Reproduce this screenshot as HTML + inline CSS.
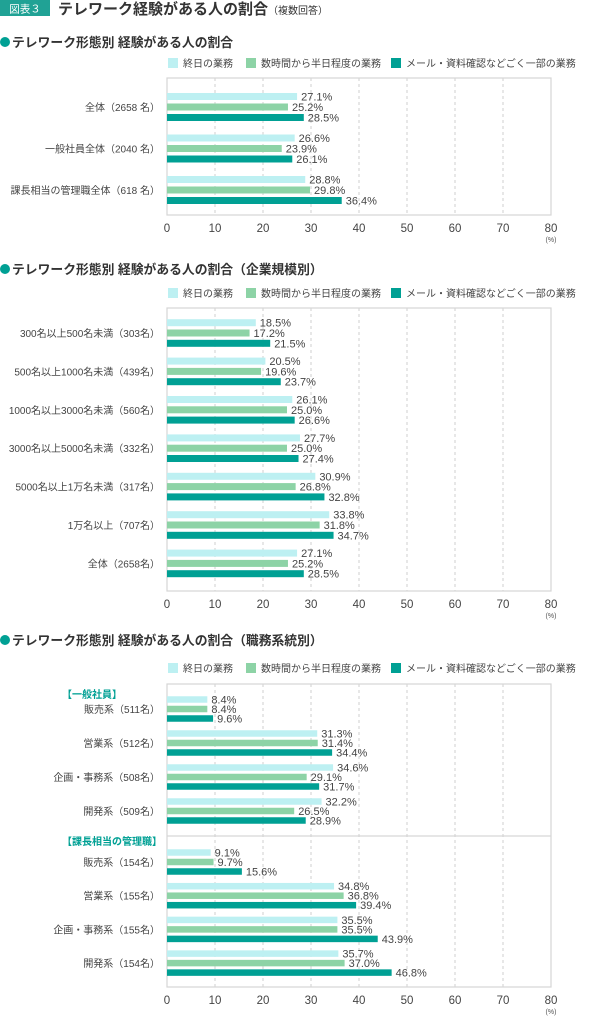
<!DOCTYPE html>
<html><head><meta charset="utf-8"><style>
body{margin:0;background:#fff;}
svg{display:block;font-family:"Liberation Sans","Noto Sans CJK JP",sans-serif;}
</style></head><body>
<svg id="s" width="600" height="1018" viewBox="0 0 600 1018">
<rect x="0" y="0" width="50" height="16" fill="#20a295"/>
<text x="25" y="12.5" fill="#fff" font-size="10.5" text-anchor="middle">図表３</text>
<text x="58" y="14" fill="#333" font-size="15" font-weight="bold">テレワーク経験がある人の割合<tspan font-size="10" font-weight="normal">（複数回答）</tspan></text>
</svg>
<script>
const seriesNames=["終日の業務","数時間から半日程度の業務","メール・資料確認などごく一部の業務"];
const colors=["#bdf0f2","#8dd3a6","#00a094"];
const ticks=[0,10,20,30,40,50,60,70,80];

const c1Cats=["全体（2658 名）","一般社員全体（2040 名）","課長相当の管理職全体（618 名）"];
const c1A=[27.1,26.6,28.8];
const c1B=[25.2,23.9,29.8];
const c1C=[28.5,26.1,36.4];

const c2Cats=["300名以上500名未満（303名）","500名以上1000名未満（439名）","1000名以上3000名未満（560名）","3000名以上5000名未満（332名）","5000名以上1万名未満（317名）","1万名以上（707名）","全体（2658名）"];
const c2A=[18.5,20.5,26.1,27.7,30.9,33.8,27.1];
const c2B=[17.2,19.6,25.0,25.0,26.8,31.8,25.2];
const c2C=[21.5,23.7,26.6,27.4,32.8,34.7,28.5];

const c3Cats=["販売系（511名）","営業系（512名）","企画・事務系（508名）","開発系（509名）","販売系（154名）","営業系（155名）","企画・事務系（155名）","開発系（154名）"];
const c3A=[8.4,31.3,34.6,32.2,9.1,34.8,35.5,35.7];
const c3B=[8.4,31.4,29.1,26.5,9.7,36.8,35.5,37.0];
const c3C=[9.6,34.4,31.7,28.9,15.6,39.4,43.9,46.8];

const S=document.getElementById('s');
const NS="http://www.w3.org/2000/svg";
function mk(tag,at,txt){const e=document.createElementNS(NS,tag);for(const k in at)e.setAttribute(k,at[k]);if(txt!==undefined)e.textContent=txt;S.appendChild(e);return e;}
const X0=167,X1=551;
const xs=v=>X0+(X1-X0)*v/80;

function chart(o){
  const t=mk('circle',{cx:5,cy:o.titleY-5,r:5,fill:"#00a094"});
  
  const tt=mk('text',{x:12,y:o.titleY,"font-size":12.8,"font-weight":"bold",fill:"#333"},o.title);
  
  const lx=[168,246,391];
  seriesNames.forEach((n,i)=>{
    const r=mk('rect',{x:lx[i],y:o.legY-10,width:10,height:10,fill:colors[i]});
    
    const lt=mk('text',{x:lx[i]+15,y:o.legY-1,"font-size":10,fill:"#444"},n);
    
  });
  ticks.forEach(v=>{
    if(v>0&&v<80){const g=mk('line',{x1:xs(v),x2:xs(v),y1:o.top,y2:o.bot,stroke:"#cfcfcf","stroke-dasharray":"3,3"});
    }
    const tl=mk('text',{x:xs(v),y:o.bot+17,"font-size":11.5,fill:"#444","text-anchor":"middle"},String(v));
    
  });
  const u=mk('text',{x:X1,y:o.bot+27,"font-size":7,fill:"#555","text-anchor":"middle"},"(%)");
  
  const box=mk('rect',{x:X0,y:o.top,width:X1-X0,height:o.bot-o.top,fill:"none",stroke:"#d6d6d6","stroke-width":1.2});
  
  if(o.extra)o.extra();
  o.cats.forEach((c,i)=>{
    const cy=o.centers(i);
    const cl=mk('text',{x:160,y:cy+4,"font-size":10,fill:"#444","text-anchor":"end"},c);
    
    o.series.forEach((arr,j)=>{
      const by=cy+(j-1)*o.sp;
      const b=mk('rect',{x:X0,y:by-o.h/2,width:xs(arr[i])-X0,height:o.h,fill:colors[j]});
      
      const vl=mk('text',{x:xs(arr[i])+4,y:by+4,"font-size":11,fill:"#444"},arr[i].toFixed(1)+"%");
      
    });
  });
}
chart({title:"テレワーク形態別 経験がある人の割合",titleY:47,legY:68,top:78,bot:215,cats:c1Cats,series:[c1A,c1B,c1C],
  centers:i=>107+i*41.5,sp:10.5,h:7});
chart({title:"テレワーク形態別 経験がある人の割合（企業規模別）",titleY:274,legY:298,top:308,bot:591,cats:c2Cats,series:[c2A,c2B,c2C],
  centers:i=>333+i*38.4,sp:10.3,h:7});
chart({title:"テレワーク形態別 経験がある人の割合（職務系統別）",titleY:645,legY:673,top:684,bot:987,cats:c3Cats,series:[c3A,c3B,c3C],
  centers:i=>i<4?709+i*34:862+(i-4)*33.7,sp:9.5,h:6.5,
  extra:()=>{
    const d=mk('line',{x1:X0,x2:X1,y1:836,y2:836,stroke:"#d6d6d6","stroke-width":1.2});
    
    const g1=mk('text',{x:62,y:698,"font-size":10,"font-weight":"bold",fill:"#00a094"},"【一般社員】");
    
    const g2=mk('text',{x:62,y:845,"font-size":10,"font-weight":"bold",fill:"#00a094"},"【課長相当の管理職】");
    
  }});
</script>
</body></html>
